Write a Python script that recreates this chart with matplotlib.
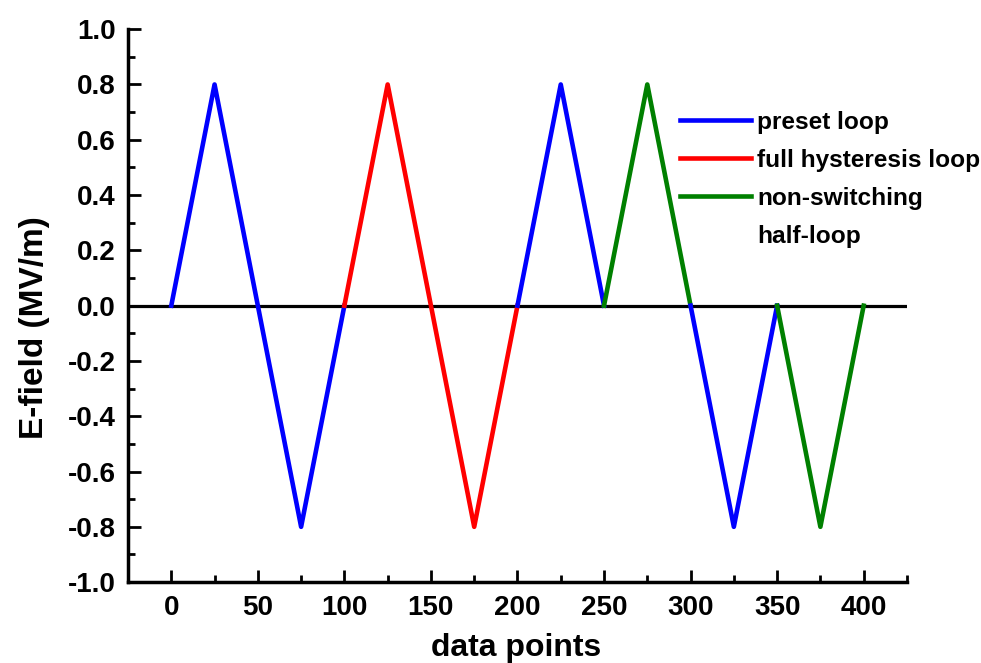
import numpy as np
import matplotlib.pyplot as plt
from matplotlib.lines import Line2D
from matplotlib.ticker import MultipleLocator

plt.rcParams['font.family'] = ['Liberation Sans', 'DejaVu Sans']
plt.rcParams['font.weight'] = 'bold'

# triangle waveform, split into segments by colour
preset1_x = [0, 25, 75, 100]
preset1_y = [0, 0.8, -0.8, 0]
full_x = [100, 125, 175, 200]
full_y = [0, 0.8, -0.8, 0]
preset2_x = [200, 225, 250]
preset2_y = [0, 0.8, 0]
half1_x = [250, 275, 300]
half1_y = [0, 0.8, 0]
preset3_x = [300, 325, 350]
preset3_y = [0, -0.8, 0]
half2_x = [350, 375, 400]
half2_y = [0, -0.8, 0]

blue = '#0000ff'
red = '#ff0000'
green = '#008000'
lw = 3.3

fig = plt.figure(figsize=(9.81, 6.63), dpi=100)
ax = fig.add_axes([0.1305, 0.122, 0.794, 0.834])

ax.axhline(0, color='black', lw=2.3, zorder=1)
ax.plot(preset1_x, preset1_y, color=blue, lw=lw)
ax.plot(full_x, full_y, color=red, lw=lw)
ax.plot(preset2_x, preset2_y, color=blue, lw=lw)
ax.plot(half1_x, half1_y, color=green, lw=lw)
ax.plot(preset3_x, preset3_y, color=blue, lw=lw)
ax.plot(half2_x, half2_y, color=green, lw=lw)

ax.set_xlim(-25, 425)
ax.set_ylim(-1.0, 1.0)
ax.xaxis.set_major_locator(MultipleLocator(50))
ax.xaxis.set_minor_locator(MultipleLocator(25))
ax.yaxis.set_major_locator(MultipleLocator(0.2))
ax.yaxis.set_minor_locator(MultipleLocator(0.1))
ax.yaxis.set_major_formatter(plt.FuncFormatter(lambda v, p: f'{v:.1f}'))

for s in ['top', 'right']:
    ax.spines[s].set_visible(False)
for s in ['left', 'bottom']:
    ax.spines[s].set_linewidth(2.5)
ax.tick_params(which='major', direction='in', length=9, width=2, labelsize=20, pad=9)
ax.tick_params(which='minor', direction='in', length=5, width=2)

ax.set_xlabel('data points', fontsize=23, fontweight='bold')
ax.set_ylabel('E-field (MV/m)', fontsize=24, fontweight='bold')
ax.xaxis.set_label_coords(0.498, -0.092)
ax.yaxis.set_label_coords(-0.100, 0.461)

handles = [Line2D([], [], color=blue, lw=lw),
           Line2D([], [], color=red, lw=lw),
           Line2D([], [], color=green, lw=lw),
           Line2D([], [], color='none', lw=lw)]
labels = ['preset loop', 'full hysteresis loop', 'non-switching', 'half-loop']
ax.legend(handles, labels, loc='upper left', bbox_to_anchor=(0.709, 0.852),
          frameon=False, fontsize=17.6, handlelength=2.9, handletextpad=0.25,
          labelspacing=0.61, borderpad=0, borderaxespad=0)

fig.savefig('out.png', dpi=100)
